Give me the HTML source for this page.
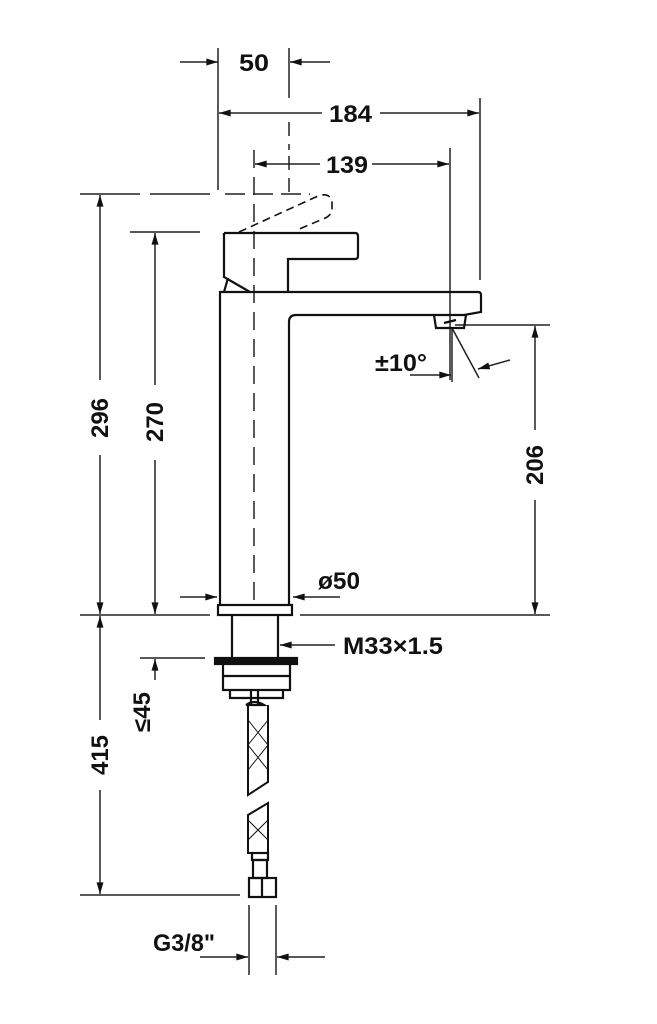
<!DOCTYPE html>
<html><head><meta charset="utf-8"><style>
html,body{margin:0;padding:0;background:#fff}
svg{display:block}
text{font-family:"Liberation Sans Narrow","Liberation Sans",sans-serif;font-weight:bold;font-size:24px;fill:#111}
</style></head><body>
<svg width="657" height="1024" viewBox="0 0 657 1024" xmlns="http://www.w3.org/2000/svg">
<defs>
<marker id="a" viewBox="0 0 10 6" refX="10" refY="3" markerWidth="14" markerHeight="7" markerUnits="userSpaceOnUse" orient="auto"><path d="M0,0L10,3L0,6z" fill="#111"/></marker>
</defs>
<g stroke="#222" stroke-width="1.5" fill="none">
<line x1="218" y1="48" x2="218" y2="190"/>
<line x1="289" y1="48" x2="289" y2="98" />
<line x1="289" y1="122" x2="289" y2="150" stroke-dasharray="14,8"/>
<line x1="480" y1="98" x2="480" y2="280"/>
<line x1="450" y1="148" x2="450" y2="380"/>
<line x1="254" y1="150" x2="254" y2="600" stroke-dasharray="18,9"/>
<line x1="289" y1="156" x2="289" y2="195" stroke-dasharray="14,8"/>
<line x1="80" y1="194" x2="210" y2="194" stroke-dasharray="60,10"/>
<line x1="225" y1="194" x2="310" y2="194" stroke-dasharray="20,8"/>
<line x1="130" y1="232" x2="200" y2="232"/>
<line x1="80" y1="615" x2="210" y2="615"/>
<line x1="300" y1="615" x2="550" y2="615"/>
<line x1="455" y1="325" x2="550" y2="325"/>
<line x1="140" y1="658" x2="205" y2="658"/>
<line x1="80" y1="895" x2="240" y2="895"/>
<line x1="249" y1="905" x2="249" y2="975"/>
<line x1="276" y1="905" x2="276" y2="975"/>
<line x1="180" y1="62" x2="218" y2="62" marker-end="url(#a)"/>
<line x1="330" y1="62" x2="290" y2="62" marker-end="url(#a)"/>
<line x1="322" y1="113" x2="219" y2="113" marker-end="url(#a)"/>
<line x1="380" y1="113" x2="479" y2="113" marker-end="url(#a)"/>
<line x1="320" y1="164" x2="255" y2="164" marker-end="url(#a)"/>
<line x1="372" y1="164" x2="449" y2="164" marker-end="url(#a)"/>
<line x1="100" y1="380" x2="100" y2="195" marker-end="url(#a)"/>
<line x1="100" y1="455" x2="100" y2="614" marker-end="url(#a)"/>
<line x1="155" y1="385" x2="155" y2="233" marker-end="url(#a)"/>
<line x1="155" y1="460" x2="155" y2="614" marker-end="url(#a)"/>
<line x1="535" y1="430" x2="535" y2="326" marker-end="url(#a)"/>
<line x1="535" y1="500" x2="535" y2="614" marker-end="url(#a)"/>
<line x1="100" y1="720" x2="100" y2="616" marker-end="url(#a)"/>
<line x1="100" y1="790" x2="100" y2="894" marker-end="url(#a)"/>
<line x1="155" y1="680" x2="155" y2="659" marker-end="url(#a)"/>
<line x1="180" y1="597" x2="217" y2="597" marker-end="url(#a)"/>
<line x1="340" y1="597" x2="293" y2="597" marker-end="url(#a)"/>
<line x1="335" y1="645" x2="280" y2="645" marker-end="url(#a)"/>
<line x1="200" y1="957" x2="248" y2="957" marker-end="url(#a)"/>
<line x1="325" y1="957" x2="277" y2="957" marker-end="url(#a)"/>
<line x1="410" y1="375" x2="451" y2="375" marker-end="url(#a)"/>
<line x1="452" y1="328" x2="452" y2="382"/>
<line x1="452" y1="328" x2="479" y2="378"/>
<line x1="510" y1="360" x2="478" y2="369" marker-end="url(#a)"/>
</g>
<g stroke="#111" stroke-width="2.2" fill="none">
<path d="M239,232 L318,196 Q330,192 332,202 L332,210 Q331,216 323,219 L297,230" stroke-dasharray="8,5" stroke-width="1.6"/>
<path d="M224,233 L355,233 Q358,233 358,236 L358,256 Q358,259 355,259 L288,259 L288,292 M224,233 L224,277 L250,292"/>
<path d="M228,278 L224,292"/>
<path d="M220,605 L220,292 L478,292 Q481,292 481,295 L481,312 L464,315 L296,315 Q289,315 289,322 L289,605"/>
<path d="M434,315 L436,328 L464,328 L466,315 M444,323 L456,320"/>
<rect x="218" y="605" width="74" height="10"/>
<path d="M232,615 L232,658 M278,615 L278,658"/>
<rect x="215" y="658" width="82" height="6" fill="#111"/>
<path d="M223,664 L223,690 L290,690 L290,664 M230,690 L230,698 L283,698 L283,690 M223,676 L290,676"/>
<path d="M251,690 L251,705 M258,690 L258,705 M246,705 Q254,699 264,705 L246,705"/>
<path d="M248,705 L248,795 L268,782 L268,705 M248,815 L268,803 L268,853 L248,853 Z" stroke-width="2"/>
<path d="M248,720 L268,745 L248,770 M268,720 L248,745 L268,770 M248,820 L268,840 M268,820 L248,840" stroke-width="1"/>
<rect x="252" y="853" width="16" height="7"/>
<rect x="253" y="860" width="14" height="18"/>
<rect x="249" y="878" width="27" height="19"/>
<line x1="262" y1="878" x2="262" y2="897"/>
</g>
<text x="239" y="71" textLength="30" lengthAdjust="spacingAndGlyphs">50</text>
<text x="329" y="122" textLength="43" lengthAdjust="spacingAndGlyphs">184</text>
<text x="326" y="173" textLength="42" lengthAdjust="spacingAndGlyphs">139</text>
<text x="375" y="371" textLength="52" lengthAdjust="spacingAndGlyphs">±10°</text>
<text x="318" y="589" textLength="42" lengthAdjust="spacingAndGlyphs">ø50</text>
<text x="343" y="654" textLength="100" lengthAdjust="spacingAndGlyphs">M33×1.5</text>
<text x="153" y="951" textLength="62" lengthAdjust="spacingAndGlyphs">G3/8"</text>
<text transform="translate(108,418) rotate(-90)" text-anchor="middle">296</text>
<text transform="translate(163,422) rotate(-90)" text-anchor="middle">270</text>
<text transform="translate(543,465) rotate(-90)" text-anchor="middle">206</text>
<text transform="translate(108,755) rotate(-90)" text-anchor="middle">415</text>
<text transform="translate(150,712) rotate(-90)" text-anchor="middle" font-size="20">≤45</text>
</svg>
</body></html>
